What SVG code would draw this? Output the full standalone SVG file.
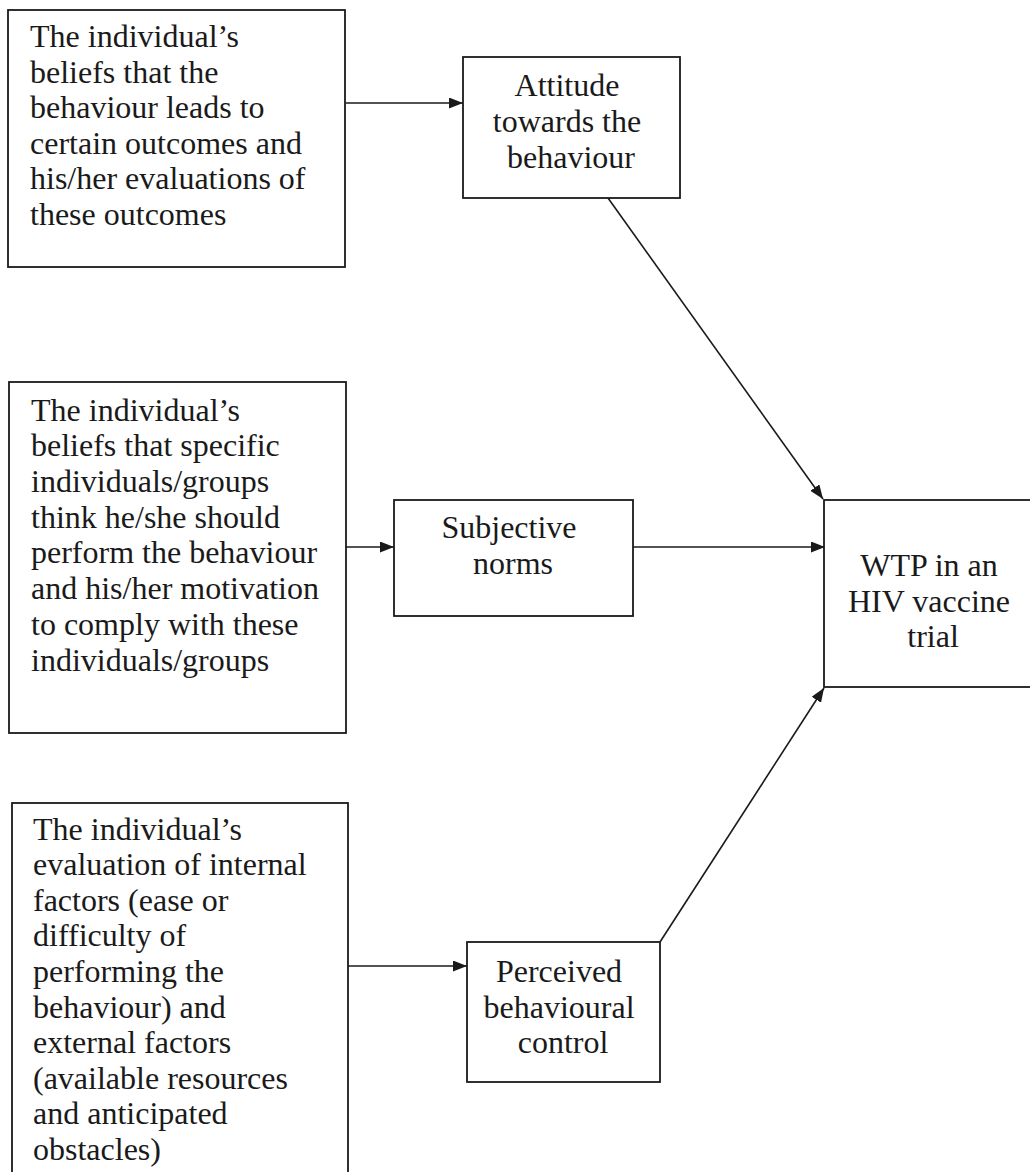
<svg xmlns="http://www.w3.org/2000/svg" width="1030" height="1172" viewBox="0 0 1030 1172">
<style>
.box{fill:#fff;stroke:#1a1a1a;stroke-width:1.8}
.t{font-size:32px;fill:#1a1a1a}
.c{text-anchor:middle}
.edge{stroke:#1a1a1a;stroke-width:1.6;fill:none;marker-end:url(#ah)}
</style>
<defs>
<marker id="ah" viewBox="0 0 14 11" refX="14" refY="5.5" markerWidth="14" markerHeight="11" markerUnits="userSpaceOnUse" orient="auto">
<path d="M0,0 L14,5.5 L0,11 Z" fill="#1a1a1a"/>
</marker>
</defs>
<rect width="1030" height="1172" fill="#fff"/>
<g id="connectors">
<line class="edge" x1="346" y1="103" x2="463" y2="103"/>
<line class="edge" x1="608" y1="198" x2="823" y2="499"/>
<line class="edge" x1="346" y1="547" x2="394" y2="547"/>
<line class="edge" x1="633" y1="547" x2="825" y2="547"/>
<line class="edge" x1="660" y1="942" x2="824" y2="688"/>
<line class="edge" x1="348" y1="966" x2="467" y2="966"/>
</g>
<g font-family="Liberation Serif, Tinos, DejaVu Serif, serif">
<g id="beliefs-outcomes">
<rect class="box" x="8" y="10" width="337" height="257"/>
<text class="t">
<tspan x="30" y="47">The individual’s</tspan>
<tspan x="30" y="83">beliefs that the</tspan>
<tspan x="30" y="118">behaviour leads to</tspan>
<tspan x="30" y="154">certain outcomes and</tspan>
<tspan x="30" y="189">his/her evaluations of</tspan>
<tspan x="30" y="225">these outcomes</tspan>
</text>
</g>
<g id="attitude">
<rect class="box" x="463" y="57" width="217" height="141"/>
<text class="t c">
<tspan x="571" y="96">Attitude</tspan>
<tspan x="571" y="132">towards the</tspan>
<tspan x="571" y="168">behaviour</tspan>
</text>
</g>
<g id="beliefs-normative">
<rect class="box" x="9" y="382" width="337" height="351"/>
<text class="t">
<tspan x="31" y="421">The individual’s</tspan>
<tspan x="31" y="456">beliefs that specific</tspan>
<tspan x="31" y="492">individuals/groups</tspan>
<tspan x="31" y="528">think he/she should</tspan>
<tspan x="31" y="563">perform the behaviour</tspan>
<tspan x="31" y="599">and his/her motivation</tspan>
<tspan x="31" y="635">to comply with these</tspan>
<tspan x="31" y="671">individuals/groups</tspan>
</text>
</g>
<g id="subjective-norms">
<rect class="box" x="394" y="500" width="239" height="116"/>
<text class="t c">
<tspan x="513" y="538">Subjective</tspan>
<tspan x="513" y="574">norms</tspan>
</text>
</g>
<g id="wtp">
<rect class="box" x="824" y="500" width="217" height="187"/>
<text class="t c">
<tspan x="933" y="576">WTP in an</tspan>
<tspan x="933" y="612">HIV vaccine</tspan>
<tspan x="933" y="647">trial</tspan>
</text>
</g>
<g id="beliefs-control">
<rect class="box" x="12" y="803" width="336" height="380"/>
<text class="t">
<tspan x="33" y="840">The individual’s</tspan>
<tspan x="33" y="875">evaluation of internal</tspan>
<tspan x="33" y="911">factors (ease or</tspan>
<tspan x="33" y="946">difficulty of</tspan>
<tspan x="33" y="982">performing the</tspan>
<tspan x="33" y="1018">behaviour) and</tspan>
<tspan x="33" y="1053">external factors</tspan>
<tspan x="33" y="1089">(available resources</tspan>
<tspan x="33" y="1124">and anticipated</tspan>
<tspan x="33" y="1160">obstacles)</tspan>
</text>
</g>
<g id="perceived-control">
<rect class="box" x="467" y="942" width="193" height="140"/>
<text class="t c">
<tspan x="563" y="982">Perceived</tspan>
<tspan x="563" y="1018">behavioural</tspan>
<tspan x="563" y="1053">control</tspan>
</text>
</g>
</g>
</svg>
